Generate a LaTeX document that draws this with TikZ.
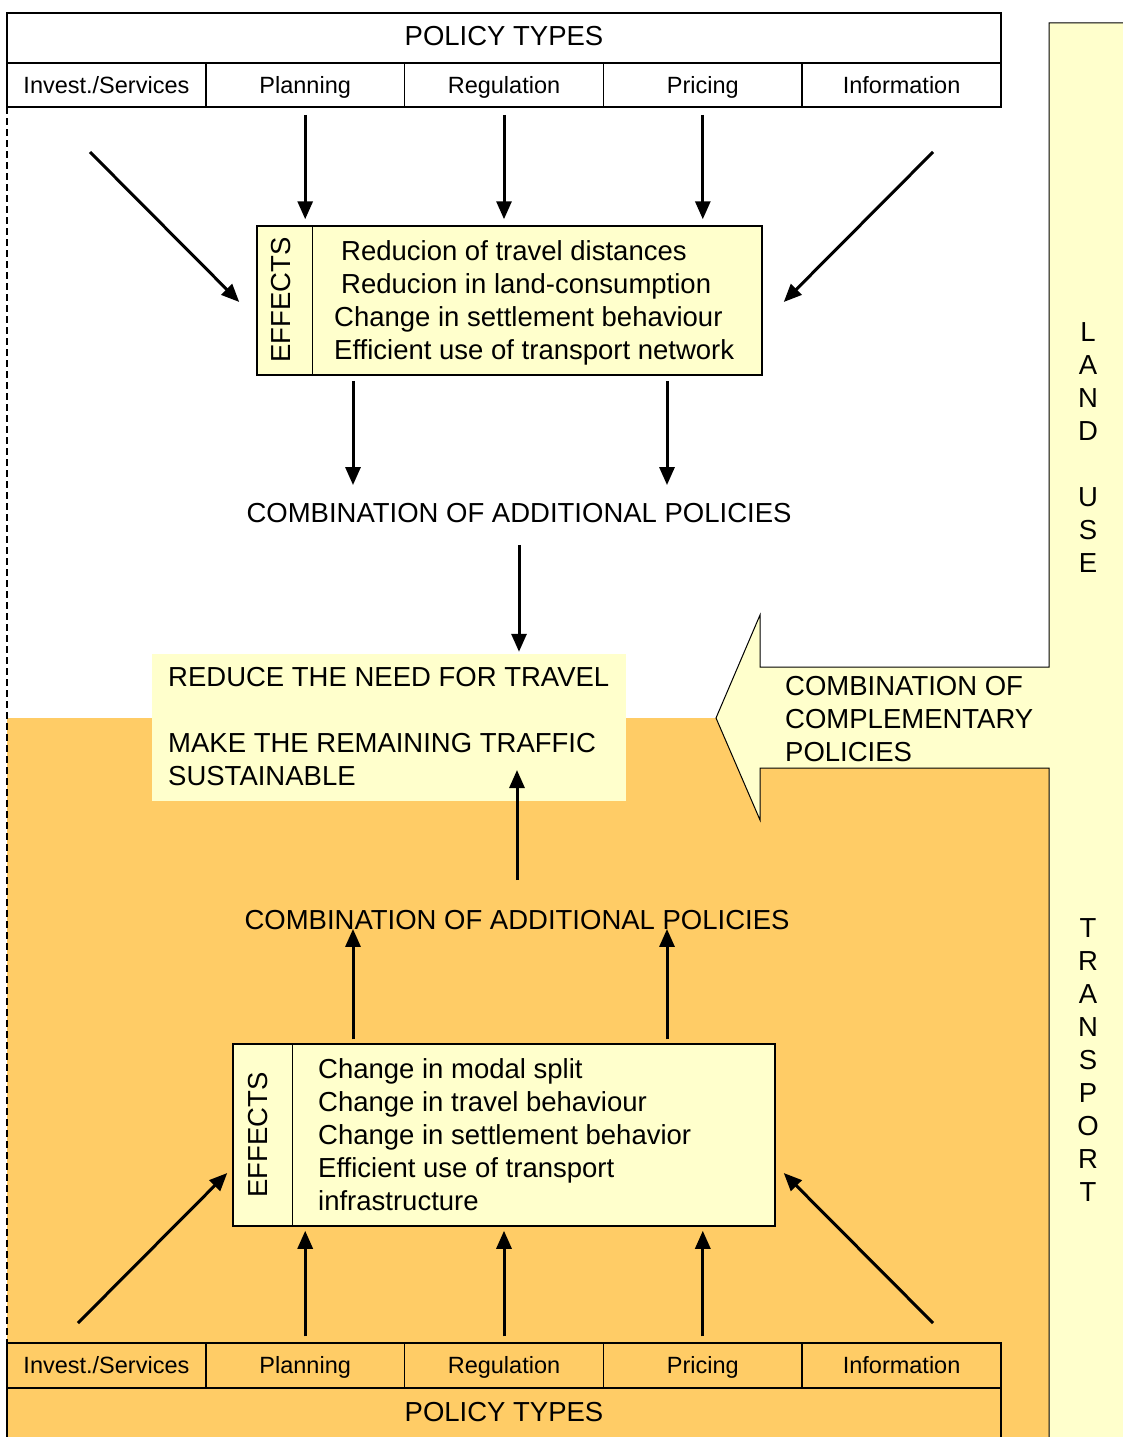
\documentclass[tikz,border=0pt]{standalone}
\usepackage{fontspec}
\setmainfont{Liberation Sans}
\usetikzlibrary{arrows.meta}

\definecolor{landuse}{HTML}{FFFFCC}
\definecolor{transport}{HTML}{FFCC66}

% Outline of the band on the right, with the arrow that
% points from it into the picture.
\def\sideband{(1130,23) -- (1049,23) -- (1049,667) -- (760,667) -- (760,615)
  -- (716,718) -- (760,820) -- (760,768) -- (1049,768) -- (1049,1445) -- (1130,1445)}

\tikzset{
  bigtext/.style={font=\fontsize{27.5}{33}\selectfont, inner sep=0pt},
  smalltext/.style={font=\fontsize{23.5}{28}\selectfont},
  % cells are centred on the capitals, whatever the descenders
  cell/.style={draw, line width=1.5pt, smalltext, minimum width=198.8pt, inner sep=0pt,
    text height=16.8pt, text depth=0pt},
  titlerow/.style={draw, line width=1.5pt, bigtext, minimum width=994pt,
    text height=19.7pt, text depth=4pt},
  fxbox/.style={draw, line width=1.5pt, fill=landuse, inner sep=0pt},
  flow/.style={line width=3pt, -{Triangle[length=18pt,width=15pt]}},
}

\begin{document}
\begin{tikzpicture}[x=1pt,y=-1pt]
    % The page gets the size of the original drawing
    \useasboundingbox (0,0) rectangle (1122,1437);
    % First we fill the transport half, then the band with its arrow
    \fill[transport] (7,718) rectangle (1049,1445);
    \fill[landuse] \sideband -- cycle;
    \draw[line width=1pt] \sideband;
    % Dashed border of the land use half
    \draw[line width=1.5pt, dash pattern=on 7pt off 4pt] (7,107) -- (7,1343);
    % Goal in the middle, it lies over both halves
    \node[fill=landuse, minimum width=474pt, minimum height=147pt, inner sep=0pt] (goal) at (389,727.5) {};
    \node[bigtext, align=left, anchor=north west] (goaltxt) at (168,667)
        {REDUCE THE NEED FOR TRAVEL\\[33pt]MAKE THE REMAINING TRAFFIC\\SUSTAINABLE};

    % Policy types, top and bottom
    \node[titlerow, minimum height=50pt] (toptitle) at (504,38) {POLICY TYPES};
    \node[titlerow, minimum height=52pt] (bottitle) at (504,1414) {POLICY TYPES};
    \foreach \i/\name/\txt in {0/inv/{Invest./Services},1/plan/Planning,2/reg/Regulation,3/price/Pricing,4/info/Information}{
        \node[cell, minimum height=44pt] (top\name) at (106.4+198.8*\i,85) {\txt};
        \node[cell, minimum height=45pt] (bot\name) at (106.4+198.8*\i,1365.5) {\txt};
    }

    % Effects of the land use policies
    \node[fxbox, minimum width=505pt, minimum height=149pt] (topfx) at (509.5,300.5) {};
    \draw[line width=1.5pt] ([xshift=56pt]topfx.north west) -- ([xshift=56pt]topfx.south west);
    \node[bigtext, rotate=90] (topfxlab) at (281,300) {EFFECTS};
    \node[bigtext, align=left, anchor=west] (topfxtxt) at (334,303)
        {\hspace*{7pt}Reducion of travel distances\\\hspace*{7pt}Reducion in land-consumption\\
         Change in settlement behaviour\\Efficient use of transport network};

    % Effects of the transport policies
    \node[fxbox, minimum width=542pt, minimum height=182pt] (botfx) at (504,1135) {};
    \draw[line width=1.5pt] ([xshift=60pt]botfx.north west) -- ([xshift=60pt]botfx.south west);
    \node[bigtext, rotate=90] (botfxlab) at (258,1135) {EFFECTS};
    \node[bigtext, align=left, anchor=west] (botfxtxt) at (318,1135)
        {Change in modal split\\Change in travel behaviour\\Change in settlement behavior\\
         Efficient use of transport\\infrastructure};

    \node[bigtext] (topcomb) at (519,513) {COMBINATION OF ADDITIONAL POLICIES};
    \node[bigtext] (botcomb) at (517,920) {COMBINATION OF ADDITIONAL POLICIES};

    % Texts of the band and of its arrow
    \node[bigtext, align=left, anchor=north west] (compl) at (785,676)
        {COMBINATION OF\\COMPLEMENTARY\\POLICIES};
    \node[bigtext, align=center, anchor=north] (landlab) at (1088,322)
        {L\\A\\N\\D\\[33pt]U\\S\\E};
    \node[bigtext, align=center, anchor=north] (translab) at (1088,918)
        {T\\R\\A\\N\\S\\P\\O\\R\\T};

    % Columns of the arrows between effects and combinations,
    % and the free tails of the slanted arrows
    \coordinate (colL) at (353,0);
    \coordinate (colR) at (667,0);
    \coordinate (tlin) at (90,152);
    \coordinate (trin) at (933,152);
    \coordinate (blin) at (78,1323);
    \coordinate (brin) at (933,1323);
    \coordinate (goalin) at (517,770);

    % Policy types act on the effects
    \foreach \name in {plan,reg,price}{
        \draw[flow, shorten <=7pt, shorten >=6pt] (top\name.south) -- (top\name.south |- topfx.north);
        \draw[flow, shorten <=6pt, shorten >=4pt] (bot\name.north) -- (bot\name.north |- botfx.south);
    }
    \draw[flow] (tlin) -- ([shift={(-17,1.5)}]topfx.west);
    \draw[flow] (trin) -- ([shift={(21,1.5)}]topfx.east);
    \draw[flow] (blin) -- ([shift={(-5,38)}]botfx.west);
    \draw[flow] (brin) -- ([shift={(8,38)}]botfx.east);

    % Effects lead to the combinations, and these to the goal
    \foreach \col in {colL,colR}{
        \draw[flow, shorten <=5pt, shorten >=18pt] (topfx.south -| \col) -- (topcomb.north -| \col);
        \draw[flow, shorten <=4pt, shorten >=-1pt] (botfx.north -| \col) -- (botcomb.south -| \col);
    }
    \draw[flow, shorten <=22pt, shorten >=2pt] (topcomb.south) -- (topcomb.south |- goal.north);
    \draw[flow, shorten <=30pt] (botcomb.north) -- (goalin);
\end{tikzpicture}
\end{document}
